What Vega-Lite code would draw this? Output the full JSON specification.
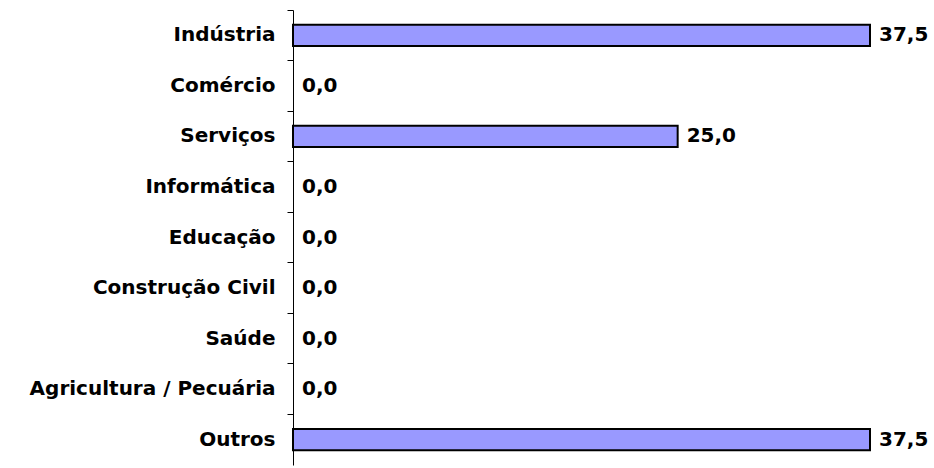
{
  "$schema": "https://vega.github.io/schema/vega-lite/v6.json",
  "autosize": "none",
  "width": 577,
  "height": 455,
  "padding": {"left": 293, "top": 10, "right": 64, "bottom": 3},
  "background": "white",
  "config": {
    "view": {"stroke": null},
    "locale": {"number": {"decimal": ",", "thousands": ".", "grouping": [3], "currency": ["R$", ""]}}
  },
  "data": {
    "values": [
      {"setor": "Indústria", "valor": 37.5},
      {"setor": "Comércio", "valor": 0.0},
      {"setor": "Serviços", "valor": 25.0},
      {"setor": "Informática", "valor": 0.0},
      {"setor": "Educação", "valor": 0.0},
      {"setor": "Construção Civil", "valor": 0.0},
      {"setor": "Saúde", "valor": 0.0},
      {"setor": "Agricultura / Pecuária", "valor": 0.0},
      {"setor": "Outros", "valor": 37.5}
    ]
  },
  "encoding": {
    "y": {
      "field": "setor",
      "type": "nominal",
      "sort": ["Indústria", "Comércio", "Serviços", "Informática", "Educação", "Construção Civil", "Saúde", "Agricultura / Pecuária", "Outros"],
      "scale": {"paddingInner": 0, "paddingOuter": 0},
      "axis": {
        "title": null,
        "domainColor": "black",
        "domainWidth": 1,
        "tickColor": "black",
        "tickSize": 6,
        "bandPosition": 0,
        "labelFont": "DejaVu Sans",
        "labelFontWeight": "bold",
        "labelFontSize": 20,
        "labelColor": "black",
        "labelPadding": 12,
        "labelBound": false,
        "labelLimit": 400
      }
    }
  },
  "layer": [
    {
      "transform": [{"filter": "datum.valor > 0"}],
      "mark": {"type": "bar", "fill": "#9999FF", "stroke": "black", "strokeWidth": 2, "height": {"band": 0.42}},
      "encoding": {
        "x": {"field": "valor", "type": "quantitative", "scale": {"domain": [0, 37.5], "nice": false}, "axis": null}
      }
    },
    {
      "mark": {"type": "text", "align": "left", "baseline": "middle", "dx": 9, "font": "DejaVu Sans", "fontWeight": "bold", "fontSize": 20, "color": "black"},
      "encoding": {
        "x": {"field": "valor", "type": "quantitative"},
        "text": {"field": "valor", "type": "quantitative", "format": ".1f"}
      }
    }
  ]
}
